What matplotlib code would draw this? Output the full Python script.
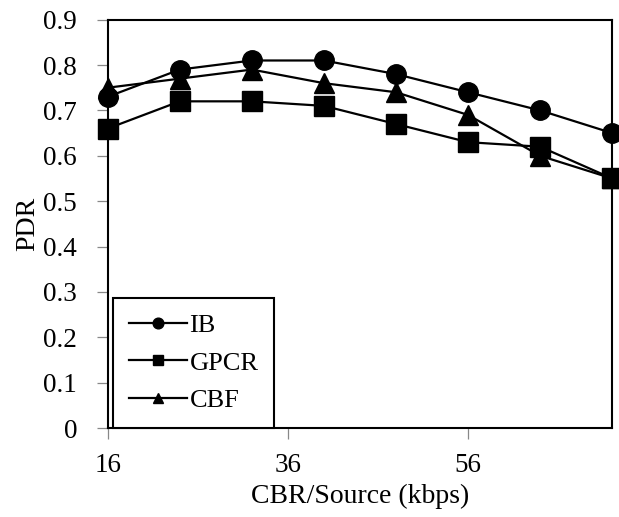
import matplotlib.pyplot as plt

# CBR per source (kbps)
rate = [16, 24, 32, 40, 48, 56, 64, 72]
ib = [0.73, 0.79, 0.81, 0.81, 0.78, 0.74, 0.70, 0.65]
gpcr = [0.66, 0.72, 0.72, 0.71, 0.67, 0.63, 0.62, 0.55]
cbf = [0.75, 0.77, 0.79, 0.76, 0.74, 0.69, 0.60, 0.55]

xticks = [16, 36, 56]
yticks = [0, 0.1, 0.2, 0.3, 0.4, 0.5, 0.6, 0.7, 0.8, 0.9]

plt.rcParams['font.family'] = ['Liberation Serif', 'DejaVu Serif']

fig = plt.figure(figsize=(6.19, 5.17), dpi=100)
ax = fig.add_axes([0.174, 0.172, 0.815, 0.790])

ax.plot(rate, ib, color='black', lw=1.6, marker='o', ms=14, label='IB', clip_on=False, zorder=3)
ax.plot(rate, gpcr, color='black', lw=1.6, marker='s', ms=14, label='GPCR', clip_on=False, zorder=3)
ax.plot(rate, cbf, color='black', lw=1.6, marker='^', ms=14, label='CBF', clip_on=False, zorder=3)

ax.set_xlim(16, 72)
ax.set_ylim(0, 0.9)
ax.set_xticks(xticks)
ax.set_yticks(yticks)
ax.set_yticklabels(['0', '0.1', '0.2', '0.3', '0.4', '0.5', '0.6', '0.7', '0.8', '0.9'])
ax.tick_params(axis='both', labelsize=19.5, direction='out', length=8, width=0.9, color='#888888')
ax.tick_params(axis='y', pad=14)
ax.tick_params(axis='x', pad=10)
for s in ax.spines.values():
    s.set_linewidth(1.5)

ax.set_xlabel('CBR/Source (kbps)', fontsize=20, labelpad=4)
ax.set_ylabel('PDR', fontsize=20, labelpad=2)

leg = ax.legend(loc='lower left', bbox_to_anchor=(0, -0.012), fontsize=19, markerscale=0.55,
                handlelength=2.2, fancybox=False, edgecolor='black', framealpha=1,
                borderpad=0.6, labelspacing=0.52, handletextpad=0.1, borderaxespad=0.2)
leg.get_frame().set_linewidth(1.5)

fig.savefig('out.png', dpi=100)
